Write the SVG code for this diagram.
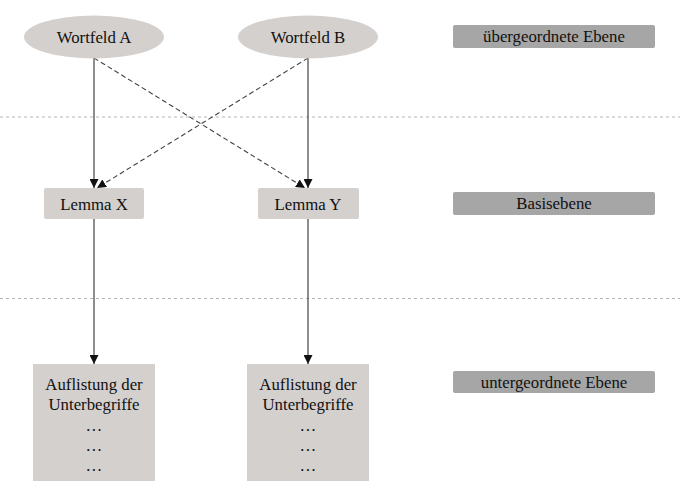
<svg xmlns="http://www.w3.org/2000/svg" width="691" height="500" viewBox="0 0 691 500">
<defs>
<marker id="ah" viewBox="0 0 10 10" refX="10" refY="5" markerWidth="9" markerHeight="9" markerUnits="userSpaceOnUse" orient="auto">
<path d="M0,0 L10,5 L0,10 z" fill="#111"/>
</marker>
<style>
text{font-family:"Liberation Serif","Times New Roman",serif;font-size:16.8px;fill:#111;text-anchor:middle}
.node{fill:#d4d0ce}
.lvl{fill:#a6a6a6}
.solid{stroke:#444;stroke-width:1.2;fill:none}
.dash{stroke:#444;stroke-width:1.1;fill:none;stroke-dasharray:5,3}
.sep{stroke:#b5b5b5;stroke-width:1;stroke-dasharray:3,3}
</style>
</defs>
<rect width="691" height="500" fill="#fff"/>
<g id="separators">
<line class="sep" x1="0" y1="117" x2="680" y2="117"/>
<line class="sep" x1="0" y1="298.5" x2="680" y2="298.5"/>
</g>
<g id="connectors">
<line class="solid" x1="94" y1="58" x2="94" y2="188" marker-end="url(#ah)"/>
<line class="solid" x1="308" y1="58" x2="308" y2="188" marker-end="url(#ah)"/>
<line class="dash" x1="94" y1="58" x2="305" y2="188" marker-end="url(#ah)"/>
<line class="dash" x1="308" y1="58" x2="97" y2="188" marker-end="url(#ah)"/>
<line class="solid" x1="94" y1="219" x2="94" y2="364" marker-end="url(#ah)"/>
<line class="solid" x1="308" y1="219" x2="308" y2="364" marker-end="url(#ah)"/>
</g>
<g id="wortfeldA"><ellipse class="node" cx="94" cy="37" rx="70" ry="21.5"/><text x="94" y="43">Wortfeld A</text></g>
<g id="wortfeldB"><ellipse class="node" cx="308" cy="37" rx="70" ry="21.5"/><text x="308" y="43">Wortfeld B</text></g>
<g id="lemmaX"><rect class="node" x="44" y="188" width="100" height="31" rx="2"/><text x="94" y="210">Lemma X</text></g>
<g id="lemmaY"><rect class="node" x="258" y="188" width="101" height="31" rx="2"/><text x="308" y="210">Lemma Y</text></g>
<g id="listX"><rect class="node" x="33" y="364" width="122" height="117"/>
<text x="94" y="390">Auflistung der</text><text x="94" y="410">Unterbegriffe</text>
<text x="94" y="431">…</text><text x="94" y="451">…</text><text x="94" y="471">…</text></g>
<g id="listY"><rect class="node" x="247" y="364" width="122" height="117"/>
<text x="308" y="390">Auflistung der</text><text x="308" y="410">Unterbegriffe</text>
<text x="308" y="431">…</text><text x="308" y="451">…</text><text x="308" y="471">…</text></g>
<g id="level1"><rect class="lvl" x="453" y="25" width="202" height="23" rx="2"/><text x="554" y="42">übergeordnete Ebene</text></g>
<g id="level2"><rect class="lvl" x="453" y="192" width="202" height="23" rx="2"/><text x="554" y="209">Basisebene</text></g>
<g id="level3"><rect class="lvl" x="453" y="371" width="202" height="22" rx="2"/><text x="554" y="388">untergeordnete Ebene</text></g>
</svg>
